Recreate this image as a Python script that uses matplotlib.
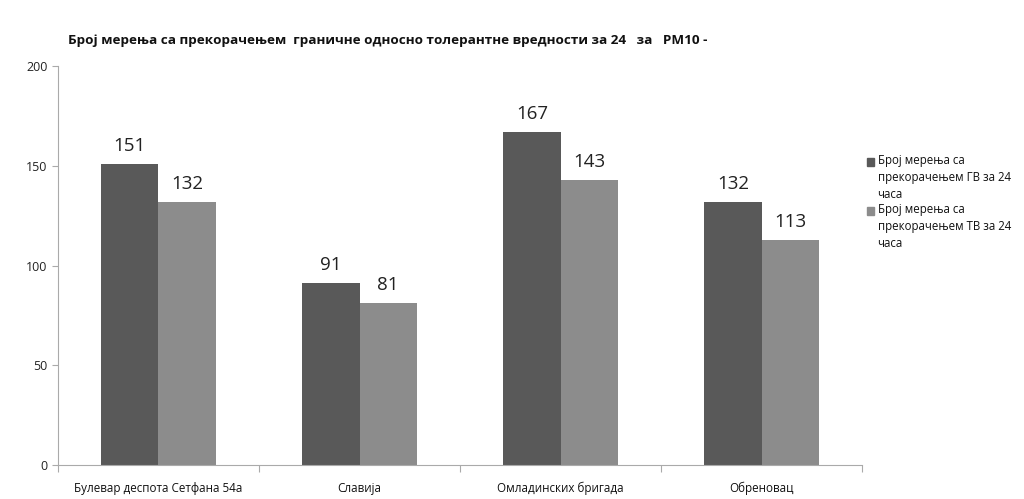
import matplotlib.pyplot as plt
import matplotlib.patches as mpatches
import numpy as np

stations = ['Булевар деспота Сетфана 54а', 'Славија', 'Омладинских бригада', 'Обреновац']
gv_counts = [151, 91, 167, 132]
tv_counts = [132, 81, 143, 113]
legend_labels = ['Број мерења са\nпрекорачењем ГВ за 24\nчаса',
                 'Број мерења са\nпрекорачењем ТВ за 24\nчаса']
bar_colors = ['#595959', '#8c8c8c']
title = 'Број мерења са прекорачењем  граничне односно толерантне вредности за 24   за   PM10 -'

plt.rcParams['font.family'] = ['Open Sans', 'DejaVu Sans']

fig = plt.figure(figsize=(10.24, 4.99), dpi=100)
ax = fig.add_axes([0.0566, 0.0681, 0.7854, 0.7996])

x = np.arange(len(stations))
w = 0.285
b1 = ax.bar(x - w / 2, gv_counts, w, color=bar_colors[0])
b2 = ax.bar(x + w / 2, tv_counts, w, color=bar_colors[1])

for bars, vals in ((b1, gv_counts), (b2, tv_counts)):
    for rect, v in zip(bars, vals):
        ax.text(rect.get_x() + rect.get_width() / 2, v + 4.5, str(v),
                ha='center', va='bottom', fontsize=13.5, color='#222222')

ax.set_xlim(-0.5, len(stations) - 0.5)
ax.set_ylim(0, 200)
ax.set_yticks([0, 50, 100, 150, 200])
ax.tick_params(axis='y', labelsize=9, length=4, color='#aaaaaa', width=0.8,
               labelcolor='#222222')
ax.set_xticks(x)
ax.set_xticklabels(stations, fontsize=8.4)
ax.tick_params(axis='x', which='major', length=0, pad=12, labelcolor='#111111')
ax.set_xticks(np.arange(-0.5, len(stations), 1), minor=True)
ax.tick_params(axis='x', which='minor', length=5, color='#aaaaaa', width=0.8)

for s in ['top', 'right']:
    ax.spines[s].set_visible(False)
for s in ['left', 'bottom']:
    ax.spines[s].set_color('#aaaaaa')
    ax.spines[s].set_linewidth(0.8)

fig.text(0.066, 0.918, title, fontsize=9.7, fontweight='bold', color='#111111',
         va='center')

# legend, squares aligned with the first line of each entry
for i, (lab, col) in enumerate(zip(legend_labels, bar_colors)):
    ytop = 0.692 - i * 0.098
    fig.text(0.857, ytop, lab, fontsize=8.3, va='top', ha='left',
             linespacing=1.4, color='#111111')
    fig.patches.append(mpatches.Rectangle((0.8465, ytop - 0.025), 0.0075, 0.0155,
                                          transform=fig.transFigure, color=col))

fig.savefig('out.png', dpi=100)
